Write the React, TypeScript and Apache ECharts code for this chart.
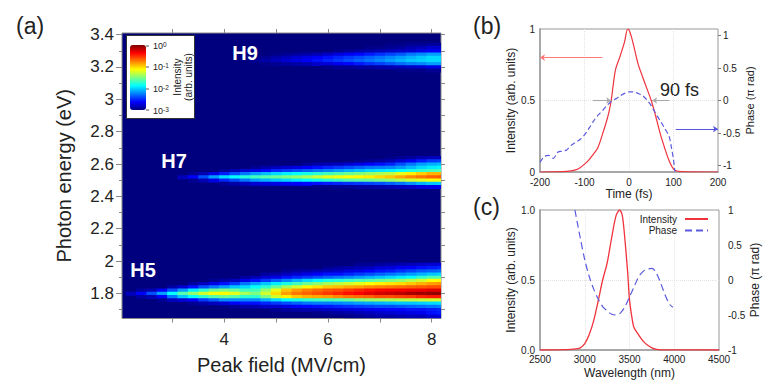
import React, { useEffect, useRef } from "react";
import * as echarts from "echarts";

// ---------- Panel (a): heat map, values are positions (0-100) on the log colour bar ----------
const h5Fields = [2.2,2.4,2.6,2.8,3.0,3.2,3.4,3.6,3.8,4.0,4.2,4.4,4.6,4.8,5.0,5.2,5.4,5.6,5.8,6.0,6.2,6.4,6.6,6.8,7.0,7.2,7.4,7.6,7.8,8.0,8.2];
const h5Energies = [1.98,1.96,1.94,1.92,1.90,1.88,1.86,1.84,1.82,1.80,1.78,1.76,1.74,1.72,1.70,1.68,1.66];
const h5Levels = [
  [0,0,0,0,0,0,0,0,0,6,0,0,0,0,0,0,0],
  [0,0,0,0,0,0,0,0,3,12,3,0,0,0,0,0,0],
  [0,0,0,0,0,0,0,0,5,20,5,0,0,0,0,0,0],
  [0,0,0,0,0,0,0,0,12,28,12,2,0,0,0,0,0],
  [0,0,0,0,0,0,0,4,20,38,24,6,0,0,0,0,0],
  [0,0,0,0,0,0,0,8,28,46,32,8,0,0,0,0,0],
  [0,0,0,0,0,0,3,14,36,52,38,12,2,0,0,0,0],
  [0,0,0,0,0,0,6,20,42,58,42,18,4,0,0,0,0],
  [0,0,0,0,0,2,10,24,48,62,46,22,6,0,0,0,0],
  [0,0,0,0,0,4,14,28,50,63,48,26,8,0,0,0,0],
  [0,0,0,0,0,6,18,32,48,60,46,26,12,2,0,0,0],
  [0,0,0,0,3,10,24,34,44,54,42,26,14,4,0,0,0],
  [0,0,0,0,5,14,28,38,44,50,42,26,14,5,0,0,0],
  [0,0,0,3,8,18,32,42,52,58,50,30,16,7,0,0,0],
  [0,0,0,4,10,22,36,48,60,66,58,34,18,8,2,0,0],
  [0,0,2,6,14,26,40,54,68,72,64,38,20,10,3,0,0],
  [0,0,3,8,16,30,44,58,72,76,68,40,22,12,4,0,0],
  [0,0,4,10,18,34,48,62,75,78,70,42,24,13,5,0,0],
  [0,0,5,12,20,37,51,65,77,80,71,43,25,14,6,1,0],
  [0,2,6,14,22,40,54,68,79,82,72,44,25,15,7,2,0],
  [0,3,7,14,24,41,56,69,80,84,74,45,26,16,8,3,0],
  [0,4,9,16,26,43,58,71,82,86,76,47,27,17,9,4,1],
  [2,5,10,18,28,45,60,72,84,88,77,50,28,18,10,5,2],
  [2,6,12,20,30,46,62,74,86,90,78,52,29,19,11,6,3],
  [3,8,14,22,32,48,64,75,87,92,80,53,30,20,12,7,4],
  [4,9,15,24,34,50,65,76,88,93,80,54,31,20,13,8,4],
  [5,11,17,26,36,52,66,77,88,94,81,55,32,21,13,9,5],
  [6,12,19,28,38,55,68,78,89,96,82,56,32,22,14,10,6],
  [7,14,21,30,42,58,70,79,89,97,84,57,33,23,14,11,6],
  [8,15,22,32,45,62,72,80,90,98,85,58,34,24,15,14,8],
  [9,16,23,33,46,63,73,80,90,98,85,58,35,25,16,15,9],
];

const h7Fields = [3.2,3.4,3.6,3.8,4.0,4.2,4.4,4.6,4.8,5.0,5.2,5.4,5.6,5.8,6.0,6.2,6.4,6.6,6.8,7.0,7.2,7.4,7.6,7.8,8.0,8.2];
const h7Energies = [2.64,2.62,2.60,2.58,2.56,2.54,2.52,2.50,2.48,2.46];
const h7Levels = [
  [0,0,0,0,0,0,6,0,0,0],
  [0,0,0,0,0,2,12,2,0,0],
  [0,0,0,0,0,5,20,5,0,0],
  [0,0,0,0,0,10,28,10,0,0],
  [0,0,0,0,2,15,34,16,2,0],
  [0,0,0,0,5,20,38,20,4,0],
  [0,0,0,0,8,24,41,24,6,0],
  [0,0,0,2,10,28,44,28,8,0],
  [0,0,0,4,13,31,46,30,9,0],
  [0,0,0,6,16,34,48,32,10,0],
  [0,0,0,8,18,36,50,34,11,0],
  [0,0,0,10,20,38,52,36,12,0],
  [0,0,2,12,22,40,54,38,13,0],
  [0,0,4,14,24,42,57,40,14,1],
  [0,0,5,16,26,44,60,42,15,1],
  [0,0,6,18,28,46,61,44,16,2],
  [0,0,8,20,30,48,62,46,17,2],
  [0,1,10,22,32,50,63,47,18,3],
  [0,2,12,24,34,52,64,48,19,3],
  [0,3,14,25,35,54,66,50,20,4],
  [1,5,16,26,36,56,68,52,22,5],
  [2,8,20,28,38,60,71,55,24,6],
  [3,11,24,31,40,64,74,58,27,7],
  [5,15,28,34,42,67,76,60,30,9],
  [6,18,30,36,44,70,78,62,32,10],
  [6,19,31,37,45,70,79,62,33,11],
];

const h9Fields = [4.6,4.8,5.0,5.2,5.4,5.6,5.8,6.0,6.2,6.4,6.6,6.8,7.0,7.2,7.4,7.6,7.8,8.0,8.2];
const h9Energies = [3.34,3.32,3.30,3.28,3.26,3.24,3.22,3.20,3.18];
const h9Levels = [
  [0,0,0,0,1,2,0,0,0],
  [0,0,0,0,2,4,1,0,0],
  [0,0,0,1,4,6,2,0,0],
  [0,0,0,2,6,8,3,0,0],
  [0,0,0,3,8,10,4,0,0],
  [0,0,0,4,10,12,5,0,0],
  [0,0,0,5,12,14,7,0,0],
  [0,0,0,7,14,16,9,1,0],
  [0,0,1,9,16,18,11,2,0],
  [0,0,2,11,18,20,13,2,0],
  [0,0,3,13,20,22,15,3,0],
  [0,1,4,15,22,24,17,3,0],
  [0,1,5,17,24,26,19,4,0],
  [1,2,6,19,26,28,21,5,0],
  [1,3,7,21,28,30,23,6,1],
  [2,5,8,24,30,32,25,7,1],
  [2,6,10,26,32,33,26,8,1],
  [3,8,12,28,34,34,28,10,2],
  [3,8,12,28,34,34,28,10,2],
];

const fieldTicks = [3, 4, 5, 6, 7, 8];
const fieldLabels = [4, 6, 8];
const energyMajor = [1.8, 2, 2.2, 2.4, 2.6, 2.8, 3, 3.2, 3.4];
const energyMinor = [1.7, 1.9, 2.1, 2.3, 2.5, 2.7, 2.9, 3.1, 3.3];
const energyAll = [1.7, 1.8, 1.9, 2, 2.1, 2.2, 2.3, 2.4, 2.5, 2.6, 2.7, 2.8, 2.9, 3, 3.1, 3.2, 3.3, 3.4];
const jetColors = ["#00007f","#0000ff","#007fff","#00ffff","#7fff7f","#ffff00","#ff7f00","#ff0000","#7f0000"];

// ---------- Panel (b) ----------
const timeIntensity = [[-200,0],[-150,0.003],[-130,0.008],[-120,0.015],[-110,0.03],[-100,0.055],[-90,0.085],[-80,0.125],[-70,0.17],[-60,0.26],[-50,0.36],[-45,0.42],[-40,0.5],[-35,0.62],[-30,0.72],[-20,0.81],[-10,0.91],[-3,1],[0,0.995],[5,0.95],[10,0.89],[20,0.76],[30,0.67],[40,0.585],[50,0.5],[60,0.39],[70,0.27],[80,0.17],[90,0.08],[100,0.02],[110,0.005],[130,0.001],[200,0]];
const timePhase = [[-200,-0.95],[-190,-0.86],[-180,-0.845],[-170,-0.89],[-160,-0.795],[-150,-0.78],[-140,-0.76],[-130,-0.69],[-120,-0.645],[-110,-0.6],[-100,-0.53],[-90,-0.43],[-80,-0.32],[-70,-0.23],[-60,-0.16],[-50,-0.08],[-40,-0.015],[-30,0.025],[-20,0.07],[-10,0.11],[0,0.133],[10,0.133],[20,0.11],[30,0.08],[40,0.01],[50,-0.08],[60,-0.2],[70,-0.31],[80,-0.425],[90,-0.55],[95,-0.71],[100,-0.91],[103,-1.09]];
const phaseTicks = [-1, -0.5, 0, 0.5, 1];
const redArrow = [[-60, 0.8], [-200, 0.8]];
const blueArrow = [[105, -0.44], [200, -0.44]];
const greyArrowLeft = [[-81, 0.5], [-40, 0.5]];
const greyArrowRight = [[91, 0.5], [52, 0.5]];

// ---------- Panel (c) ----------
const waveIntensity = [[2500,0],[2800,0.002],[2900,0.008],[2950,0.015],[3000,0.045],[3050,0.11],[3100,0.21],[3150,0.35],[3200,0.5],[3250,0.62],[3300,0.8],[3350,0.96],[3390,1],[3420,0.96],[3450,0.78],[3480,0.55],[3500,0.36],[3530,0.22],[3550,0.16],[3600,0.11],[3650,0.065],[3700,0.035],[3750,0.015],[3800,0.005],[3900,0.001],[4500,0]];
const wavePhase = [[2890,1],[2950,0.6],[3000,0.29],[3050,0.05],[3100,-0.13],[3150,-0.27],[3200,-0.38],[3250,-0.44],[3300,-0.49],[3350,-0.5],[3400,-0.47],[3450,-0.38],[3500,-0.24],[3550,-0.1],[3600,0.04],[3650,0.12],[3700,0.155],[3750,0.165],[3800,0.1],[3850,-0.05],[3900,-0.22],[3950,-0.35],[3985,-0.39]];

const FONT = "Liberation Sans";
const RED = "#f0323c";
const BLUE = "#5a5ae0";
const FRAME = "#a8a8a8";

function cells(fields: number[], energies: number[], levels: number[][]) {
  const out: number[][] = [];
  fields.forEach((f, c) => energies.forEach((e, r) => {
    if (levels[c][r] > 0) out.push([f, e, levels[c][r]]);
  }));
  return out;
}

function renderCell(_: any, api: any) {
  const x = api.value(0), y = api.value(1);
  const a = api.coord([x - 0.1, y + 0.01]);
  const b = api.coord([x + 0.1, y - 0.01]);
  return {
    type: "rect",
    shape: { x: a[0], y: a[1], width: b[0] - a[0] + 0.6, height: b[1] - a[1] + 0.6 },
    style: { fill: api.visual("color") },
  };
}

function ticksOnly(extra: any) {
  return { show: true, axisLine: { show: false }, axisLabel: { show: false }, splitLine: { show: false }, ...extra };
}

function arrow(pts: number[][], color: string, head?: string) {
  return [{ coord: pts[0], lineStyle: { color, width: 1.1, type: "solid" }, itemStyle: { color: head || color } }, { coord: pts[1], itemStyle: { color: head || color } }];
}

function makeOption() {
  const tick = { color: "#222", fontFamily: FONT };
  return {
    animation: false,
    backgroundColor: "#fff",
    textStyle: { fontFamily: FONT },
    grid: [
      { left: 122, top: 33, width: 319, height: 285.5, show: true, backgroundColor: "#00007f", borderColor: "#888", borderWidth: 1 },
      { left: 540, top: 29, width: 178, height: 143, show: true, borderColor: "#999", borderWidth: 1 },
      { left: 540, top: 210, width: 179, height: 142, show: true, borderColor: "#999", borderWidth: 1 },
    ],
    xAxis: [
      { type: "value", gridIndex: 0, min: 2.03, max: 8.18, position: "bottom", name: "Peak field (MV/cm)", nameLocation: "middle", nameGap: 36,
        nameTextStyle: { fontSize: 20, color: "#222", fontFamily: FONT },
        axisLine: { show: false }, splitLine: { show: false },
        axisTick: { length: 4, lineStyle: { color: "#888" }, customValues: fieldTicks },
        axisLabel: { fontSize: 17, margin: 12, ...tick, customValues: fieldLabels } },
      ticksOnly({ type: "value", gridIndex: 0, min: 2.03, max: 8.18, position: "top",
        axisTick: { length: 4, lineStyle: { color: "#888" }, customValues: fieldTicks }, axisLabel: { show: false, customValues: fieldLabels } }),
      { type: "value", gridIndex: 1, min: -200, max: 200, interval: 100, name: "Time (fs)", nameLocation: "middle", nameGap: 15,
        nameTextStyle: { fontSize: 12, color: "#222", fontFamily: FONT },
        axisLine: { lineStyle: { color: FRAME, width: 2 } }, axisTick: { show: false },
        splitLine: { show: true, showMinLine: false, showMaxLine: false, lineStyle: { color: "#e4e4e4", type: "dotted" } },
        axisLabel: { fontSize: 10, margin: 5, ...tick, formatter: (v: number) => String(v) } },
      { type: "value", gridIndex: 2, min: 2500, max: 4500, interval: 500, name: "Wavelength (nm)", nameLocation: "middle", nameGap: 17,
        nameTextStyle: { fontSize: 12, color: "#222", fontFamily: FONT },
        axisLine: { lineStyle: { color: FRAME, width: 2 } }, axisTick: { show: false },
        splitLine: { show: true, showMinLine: false, showMaxLine: false, lineStyle: { color: "#e4e4e4", type: "dotted" } },
        axisLabel: { fontSize: 10, margin: 4, ...tick, formatter: (v: number) => String(v) } },
    ],
    yAxis: [
      { type: "value", gridIndex: 0, min: 1.645, max: 3.41, position: "left", name: "Photon energy (eV)", nameLocation: "middle", nameGap: 48,
        nameTextStyle: { fontSize: 20, color: "#222", fontFamily: FONT },
        axisLine: { show: false }, splitLine: { show: false },
        axisTick: { length: 6, lineStyle: { color: "#888" }, customValues: energyMajor },
        axisLabel: { fontSize: 17, margin: 8, ...tick, customValues: energyMajor } },
      ticksOnly({ type: "value", gridIndex: 0, min: 1.645, max: 3.41, position: "left",
        axisTick: { length: 3, lineStyle: { color: "#888" }, customValues: energyMinor }, axisLabel: { show: false, customValues: energyMinor } }),
      ticksOnly({ type: "value", gridIndex: 0, min: 1.645, max: 3.41, position: "right",
        axisTick: { length: 4, lineStyle: { color: "#888" }, customValues: energyAll }, axisLabel: { show: false, customValues: energyAll } }),
      { type: "value", gridIndex: 1, min: 0, max: 1, interval: 0.5, name: "Intensity (arb. units)", nameLocation: "middle", nameGap: 16,
        nameTextStyle: { fontSize: 12, color: "#222", fontFamily: FONT },
        axisLine: { show: true, onZero: false, lineStyle: { color: FRAME, width: 2 } }, axisTick: { show: false },
        splitLine: { show: true, showMinLine: false, showMaxLine: false, lineStyle: { color: "#e4e4e4", type: "dotted" } },
        axisLabel: { fontSize: 10, margin: 5, ...tick } },
      { type: "value", gridIndex: 1, min: -1.1, max: 1.1, position: "right", name: "Phase (π rad)", nameLocation: "middle", nameGap: 21, nameRotate: 90,
        nameTextStyle: { fontSize: 11, color: "#222", fontFamily: FONT },
        axisLine: { show: false, onZero: false }, splitLine: { show: false },
        axisTick: { length: 3, lineStyle: { color: "#777" }, customValues: phaseTicks },
        axisLabel: { fontSize: 10, margin: 5, ...tick, customValues: phaseTicks } },
      { type: "value", gridIndex: 2, min: 0, max: 1, interval: 0.5, name: "Intensity (arb. units)", nameLocation: "middle", nameGap: 18,
        nameTextStyle: { fontSize: 12, color: "#222", fontFamily: FONT },
        axisLine: { show: true, onZero: false, lineStyle: { color: FRAME, width: 2 } }, axisTick: { show: false },
        splitLine: { show: true, showMinLine: false, showMaxLine: false, lineStyle: { color: "#e4e4e4", type: "dotted" } },
        axisLabel: { fontSize: 10, margin: 5, ...tick, formatter: (v: number) => v.toFixed(1) } },
      { type: "value", gridIndex: 2, min: -1, max: 1, interval: 0.5, position: "right", name: "Phase (π rad)", nameLocation: "middle", nameGap: 21, nameRotate: 90,
        nameTextStyle: { fontSize: 12, color: "#222", fontFamily: FONT },
        axisLine: { show: false, onZero: false }, splitLine: { show: false }, axisTick: { show: false },
        axisLabel: { fontSize: 10, margin: 9, ...tick } },
    ],
    visualMap: {
      type: "continuous", seriesIndex: [0, 1, 2], dimension: 2, min: 0, max: 100, show: true, calculable: false,
      left: 130, top: 45, itemWidth: 16, itemHeight: 65, padding: 0, text: null, showLabel: false, hoverLink: false, z: 12,
      inRange: { color: jetColors },
    },
    legend: {
      show: true, data: ["Intensity", "Phase"], orient: "vertical", right: 49, top: 209, align: "right", itemWidth: 23, itemHeight: 9, itemGap: 1.5,
      itemStyle: { opacity: 0 },
      textStyle: { fontSize: 10, color: "#222", fontFamily: FONT, padding: [0, 3, 0, 0] }, selectedMode: false,
    },
    series: [
      { type: "custom", name: "H5", xAxisIndex: 0, yAxisIndex: 0, coordinateSystem: "cartesian2d", renderItem: renderCell, clip: true, silent: true,
        data: cells(h5Fields, h5Energies, h5Levels), encode: { x: 0, y: 1 } },
      { type: "custom", name: "H7", xAxisIndex: 0, yAxisIndex: 0, coordinateSystem: "cartesian2d", renderItem: renderCell, clip: true, silent: true,
        data: cells(h7Fields, h7Energies, h7Levels), encode: { x: 0, y: 1 } },
      { type: "custom", name: "H9", xAxisIndex: 0, yAxisIndex: 0, coordinateSystem: "cartesian2d", renderItem: renderCell, clip: true, silent: true,
        data: cells(h9Fields, h9Energies, h9Levels), encode: { x: 0, y: 1 } },
      { type: "line", name: "Pulse intensity", xAxisIndex: 2, yAxisIndex: 3, data: timeIntensity, symbol: "none", smooth: 0.3, lineStyle: { color: RED, width: 1.2 }, itemStyle: { color: RED },
        markLine: { silent: true, symbol: ["none", "arrow"], symbolSize: 5, label: { show: false }, animation: false,
          data: [arrow(redArrow, "#f77"), arrow(greyArrowLeft, "#aaa", "#555"), arrow(greyArrowRight, "#aaa", "#555")] } },
      { type: "line", name: "Pulse phase", xAxisIndex: 2, yAxisIndex: 4, data: timePhase, symbol: "none", smooth: 0.3, lineStyle: { color: BLUE, width: 1.2, type: [5, 3] }, itemStyle: { color: BLUE },
        markLine: { silent: true, symbol: ["none", "arrow"], symbolSize: 5, label: { show: false }, animation: false,
          data: [arrow(blueArrow, "#55d")] } },
      { type: "line", name: "Intensity", xAxisIndex: 3, yAxisIndex: 5, data: waveIntensity, symbol: "none", smooth: 0.3, lineStyle: { color: RED, width: 1.3 }, itemStyle: { color: RED } },
      { type: "line", name: "Phase", xAxisIndex: 3, yAxisIndex: 6, data: wavePhase, symbol: "none", smooth: 0.3, lineStyle: { color: BLUE, width: 1.2, type: [7, 4] }, itemStyle: { color: BLUE } },
    ],
    graphic: [
      { type: "rect", z: 10, shape: { x: 126.5, y: 35.5, width: 68, height: 83 }, style: { fill: "#fff", stroke: "#333", lineWidth: 1 } },
      ...[46, 67, 89, 110].map((y) => ({ type: "line", z: 13, shape: { x1: 146, y1: y, x2: 149, y2: y }, style: { stroke: "#555", lineWidth: 1 } })),
      ...[["0", 46], ["-1", 67], ["-2", 89], ["-3", 111]].map(([p, y]) => ({
        type: "text", z: 13, x: 153, y: y as number,
        style: { text: `{b|10}{s|${p}}`, fontFamily: FONT, verticalAlign: "middle", rich: { b: { fontSize: 9, fill: "#222", fontFamily: FONT }, s: { fontSize: 6.5, fill: "#222", fontFamily: FONT, verticalAlign: "top", padding: [0, 0, 4, 0] } } },
      })),
      { type: "text", z: 13, x: 177, y: 77, rotation: Math.PI / 2, style: { text: "Intensity", fontSize: 10, fontFamily: FONT, fill: "#222", align: "center", verticalAlign: "middle" } },
      { type: "text", z: 13, x: 188, y: 77, rotation: Math.PI / 2, style: { text: "(arb. units)", fontSize: 10, fontFamily: FONT, fill: "#222", align: "center", verticalAlign: "middle" } },
      { type: "text", z: 13, x: 245, y: 53, style: { text: "H9", fontSize: 20, fontWeight: "bold", fontFamily: FONT, fill: "#fff", align: "center", verticalAlign: "middle" } },
      { type: "text", z: 13, x: 174, y: 161, style: { text: "H7", fontSize: 20, fontWeight: "bold", fontFamily: FONT, fill: "#fff", align: "center", verticalAlign: "middle" } },
      { type: "text", z: 13, x: 143, y: 270, style: { text: "H5", fontSize: 20, fontWeight: "bold", fontFamily: FONT, fill: "#fff", align: "center", verticalAlign: "middle" } },
      { type: "text", x: 16, y: 26, style: { text: "(a)", fontSize: 23, fontFamily: FONT, fill: "#222", verticalAlign: "middle" } },
      { type: "text", x: 473, y: 26, style: { text: "(b)", fontSize: 23, fontFamily: FONT, fill: "#222", verticalAlign: "middle" } },
      { type: "text", x: 473, y: 207, style: { text: "(c)", fontSize: 23, fontFamily: FONT, fill: "#222", verticalAlign: "middle" } },
      { type: "text", x: 660, y: 90, style: { text: "90 fs", fontSize: 18, fontFamily: FONT, fill: "#222", verticalAlign: "middle" } },
    ],
  };
}

export default function App() {
  const ref = useRef<HTMLDivElement>(null);
  useEffect(() => {
    document.body.style.margin = "0";
    const chart = echarts.init(ref.current!, null, { renderer: "svg" });
    chart.setOption(makeOption() as any);
    return () => chart.dispose();
  }, []);
  return <div ref={ref} style={{ width: 763, height: 380, background: "#fff" }} />;
}
